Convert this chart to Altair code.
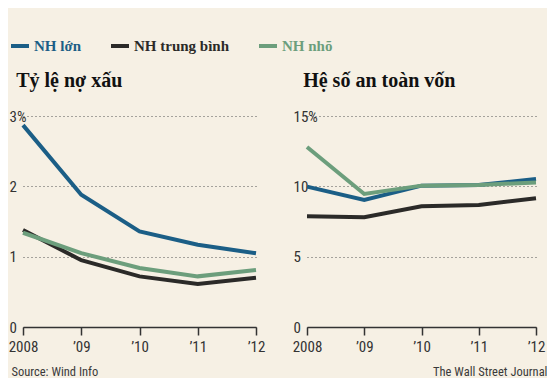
import altair as alt
import pandas as pd

years = ["2008", "’09", "’10", "’11", "’12"]
series = ["NH lớn", "NH trung bình", "NH nhõ"]
colors = ["#1b5e86", "#2b2a28", "#6c9e7c"]

npl_lon = [2.87, 1.88, 1.36, 1.17, 1.05]
npl_tb = [1.38, 0.95, 0.72, 0.61, 0.70]
npl_nho = [1.34, 1.05, 0.84, 0.72, 0.81]

car_lon = [9.98, 9.03, 10.05, 10.1, 10.52]
car_tb = [7.87, 7.80, 8.58, 8.68, 9.15]
car_nho = [12.8, 9.46, 10.05, 10.1, 10.28]

npl_ticks = [0, 1, 2, 3]
car_ticks = [0, 5, 10, 15]

BG = "#f6f0e4"
SANS = "Liberation Sans Narrow, Roboto Condensed, Liberation Sans"
SERIF = "Liberation Serif"


def make_df(vals):
    rows = []
    for s, v in zip(series, vals):
        for y, x in zip(years, v):
            rows.append({"year": y, "series": s, "value": x})
    return pd.DataFrame(rows)


df_npl = make_df([npl_lon, npl_tb, npl_nho])
df_car = make_df([car_lon, car_tb, car_nho])

color_scale = alt.Scale(domain=series, range=colors)

label_color_expr = (
    "datum.label == 'NH lớn' ? '" + colors[0] + "' : "
    "datum.label == 'NH trung bình' ? '" + colors[1] + "' : '" + colors[2] + "'"
)


def panel(df, ticks, top, title, title_dx, footer, footer_x, footer_align, legend, width):
    pct_top = ticks[-1]
    label_expr = f"datum.value == {pct_top} ? datum.value + '%' : datum.value"
    return (
        alt.Chart(df, title=alt.TitleParams(
            title, anchor="start", font=SERIF, fontSize=20, fontWeight="bold",
            color="#111111", offset=18, dx=title_dx))
        .mark_line(strokeWidth=4, strokeCap="butt")
        .encode(
            x=alt.X("year:N", sort=years,
                    scale=alt.Scale(type="point", padding=0),
                    axis=alt.Axis(title=footer, titleX=footer_x, titleAlign=footer_align,
                                  titleAnchor=None, titleFont=SANS, titleFontSize=12.5,
                                  titleFontWeight="normal", titleColor="#3a3a3a",
                                  titleY=38, labelAngle=0, labelFont=SANS, labelFontSize=15,
                                  labelColor="#333333", labelPadding=4, tickSize=8,
                                  tickWidth=1.5, tickColor="#333333", domainColor="#333333",
                                  domainWidth=1.5, grid=False)),
            y=alt.Y("value:Q", scale=alt.Scale(domain=[0, top], nice=False),
                    axis=alt.Axis(title=None, values=ticks, labelExpr=label_expr,
                                  labelAlign="left", labelPadding=14, ticks=False,
                                  domain=False, labelFont=SANS, labelFontSize=15,
                                  labelColor="#333333", labelBaseline="middle",
                                  grid=True, gridDash=[1, 3], gridColor="#555555",
                                  gridWidth=1)),
            color=alt.Color("series:N", scale=color_scale, sort=series,
                            legend=legend),
        )
        .properties(width=width, height=211)
    )


legend = alt.Legend(
    title=None, orient="none", legendX=-14, legendY=-81, direction="horizontal",
    symbolType="stroke", symbolStrokeWidth=4, symbolSize=324, symbolStrokeColor=None,
    labelFont=SERIF, labelFontSize=15, labelFontWeight="bold",
    labelColor=alt.ExprRef(label_color_expr), columnPadding=21, labelOffset=3,
)

left = panel(df_npl, npl_ticks, 3, "Tỷ lệ nợ xấu", 8, "Source: Wind Info", -12, "left",
             legend, 233)
right = panel(df_car, car_ticks, 15, "Hệ số an toàn vốn", 11, "The Wall Street Journal",
              240, "right", legend, 229)

chart = (
    alt.hconcat(left, right, spacing=27)
    .resolve_scale(y="independent")
    .properties(background=BG, padding={"left": 0, "top": 27, "right": 0, "bottom": 0})
    .configure_view(stroke=None)
)

chart.save("out.html", embed_options={"renderer": "svg", "actions": False})
